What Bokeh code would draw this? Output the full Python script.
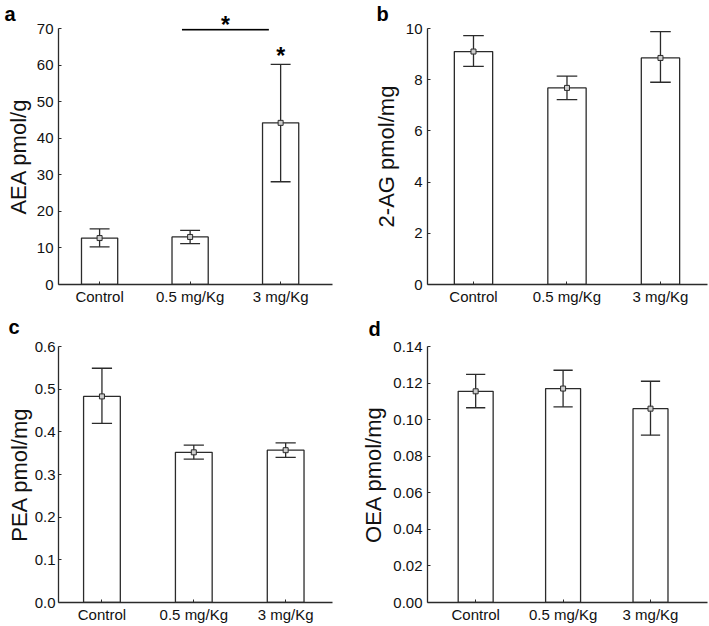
from bokeh.plotting import figure
from bokeh.layouts import gridplot
from bokeh.models import FixedTicker, Range1d, Label, ColumnDataSource
from bokeh.embed import file_html
from bokeh.resources import INLINE

# ---------------- data ----------------
groups = ["Control", "0.5 mg/Kg", "3 mg/Kg"]
group_pos = [1, 2, 3]

aea_mean = [12.7, 13.0, 44.2]
aea_low = [10.3, 11.2, 28.1]
aea_high = [15.2, 14.8, 60.2]

ag_mean = [9.1, 7.68, 8.85]
ag_low = [8.52, 7.22, 7.9]
ag_high = [9.72, 8.14, 9.88]

pea_mean = [0.483, 0.352, 0.357]
pea_low = [0.420, 0.336, 0.340]
pea_high = [0.549, 0.369, 0.374]

oea_mean = [0.1155, 0.117, 0.106]
oea_low = [0.1065, 0.107, 0.0915]
oea_high = [0.1248, 0.127, 0.121]

aea_ticks = [0, 10, 20, 30, 40, 50, 60, 70]
aea_tick_labels = ["0", "10", "20", "30", "40", "50", "60", "70"]
ag_ticks = [0, 2, 4, 6, 8, 10]
ag_tick_labels = ["0", "2", "4", "6", "8", "10"]
pea_ticks = [0.0, 0.1, 0.2, 0.3, 0.4, 0.5, 0.6]
pea_tick_labels = ["0.0", "0.1", "0.2", "0.3", "0.4", "0.5", "0.6"]
oea_ticks = [0.0, 0.02, 0.04, 0.06, 0.08, 0.10, 0.12, 0.14]
oea_tick_labels = ["0.00", "0.02", "0.04", "0.06", "0.08", "0.10", "0.12", "0.14"]

# significance annotation (panel a): bracket between 0.5 mg/Kg and 3 mg/Kg, star over 3 mg/Kg
sig_bracket_x = [1.91, 2.87]
sig_bracket_y = 69.7
sig_bracket_star = (2.39, 71.0)
sig_bar_star = (3.0, 62.6)

FONT = "Liberation Sans"
DARK = "#2b2b2b"
TEXT = "#111111"


def panel(letter, letter_dx, letter_dy, ylabel, label_standoff, tick_standoff, mean, low, high,
          ticks, tick_labels, ymax, xstart, xend, width, height, bl, br, bt, bb,
          barw=0.4, cap=0.11):
    p = figure(width=width, height=height, output_backend="svg", toolbar_location=None,
               x_range=Range1d(xstart, xend), y_range=Range1d(0, ymax),
               min_border_left=bl, min_border_right=br, min_border_top=bt,
               min_border_bottom=bb, tools="")
    p.outline_line_color = None
    p.grid.visible = False
    p.background_fill_color = "white"
    p.border_fill_color = "white"

    src = ColumnDataSource(dict(x=group_pos, top=mean, low=low, high=high,
                                cl=[x - cap for x in group_pos],
                                cr=[x + cap for x in group_pos]))
    p.vbar(x="x", top="top", width=barw, bottom=0, source=src,
           fill_color="white", line_color=DARK, line_width=1.3)
    p.segment(x0="x", y0="low", x1="x", y1="high", source=src, line_color=DARK, line_width=1.3)
    p.segment(x0="cl", y0="low", x1="cr", y1="low", source=src, line_color=DARK, line_width=1.3)
    p.segment(x0="cl", y0="high", x1="cr", y1="high", source=src, line_color=DARK, line_width=1.3)
    p.scatter(x="x", y="top", source=src, marker="square", size=5,
              fill_color="#cccccc", line_color=DARK, line_width=1)

    for ax in (p.xaxis[0], p.yaxis[0]):
        ax.axis_line_color = DARK
        ax.axis_line_width = 1.3
        ax.major_tick_line_color = DARK
        ax.major_tick_in = 3
        ax.major_tick_out = 0
        ax.minor_tick_line_color = None
        ax.major_label_text_font = FONT
        ax.major_label_text_color = TEXT
        ax.major_label_text_font_size = "15px"

    p.xaxis.ticker = FixedTicker(ticks=group_pos)
    p.xaxis.major_label_overrides = {x: g for x, g in zip(group_pos, groups)}
    p.xaxis.major_label_standoff = 3

    p.yaxis.ticker = FixedTicker(ticks=ticks)
    p.yaxis.major_label_overrides = {t: s for t, s in zip(ticks, tick_labels)}
    p.yaxis.major_label_standoff = tick_standoff
    p.yaxis.axis_label = ylabel
    p.yaxis.axis_label_text_font = FONT
    p.yaxis.axis_label_text_font_style = "normal"
    p.yaxis.axis_label_text_font_size = "22px"
    p.yaxis.axis_label_text_color = TEXT
    p.yaxis.axis_label_standoff = label_standoff

    p.add_layout(Label(x=letter_dx, y=letter_dy, x_units="screen", y_units="screen",
                       text=letter, text_font=FONT, text_font_style="bold",
                       text_font_size="20px", text_color="black",
                       text_baseline="middle", text_align="left"), "above")
    return p


W_L, W_R = 354, 355
H_T, H_B = 313, 313

pa = panel("a", -54, 15, "AEA pmol/g", 3, 5, aea_mean, aea_low, aea_high, aea_ticks,
           aea_tick_labels, 70, 0.546, 3.573, W_L, H_T, 58, 6, 28, 29)
pb = panel("b", -51, 15, "2-AG pmol/mg", 4, 5, ag_mean, ag_low, ag_high, ag_ticks,
           ag_tick_labels, 10, 0.508, 3.503, W_R, H_T, 73, 2, 28, 29, barw=0.41)
pc = panel("c", -50, 20, "PEA pmol/mg", 0, 3, pea_mean, pea_low, pea_high, pea_ticks,
           pea_tick_labels, 0.6, 0.527, 3.51, W_L, H_B, 58, 22, 33, 24)
pd = panel("d", -59, 18, "OEA pmol/mg", 4, 5, oea_mean, oea_low, oea_high, oea_ticks,
           oea_tick_labels, 0.14, 0.449, 3.652, W_R, H_B, 69, 1, 33, 24)

# significance marks on panel a
pa.line(x=sig_bracket_x, y=[sig_bracket_y, sig_bracket_y], line_color="black", line_width=1.6)
pa.add_layout(Label(x=sig_bracket_star[0], y=sig_bracket_star[1], text="*", text_font=FONT,
                    text_font_style="bold", text_font_size="23px", text_color="black",
                    text_align="center", text_baseline="middle"), "right")
pa.add_layout(Label(x=sig_bar_star[0], y=sig_bar_star[1], text="*", text_font=FONT,
                    text_font_style="bold", text_font_size="23px", text_color="black",
                    text_align="center", text_baseline="middle"))

grid = gridplot([[pa, pb], [pc, pd]], toolbar_location=None)

with open("out.html", "w") as f:
    f.write(file_html(grid, INLINE))
